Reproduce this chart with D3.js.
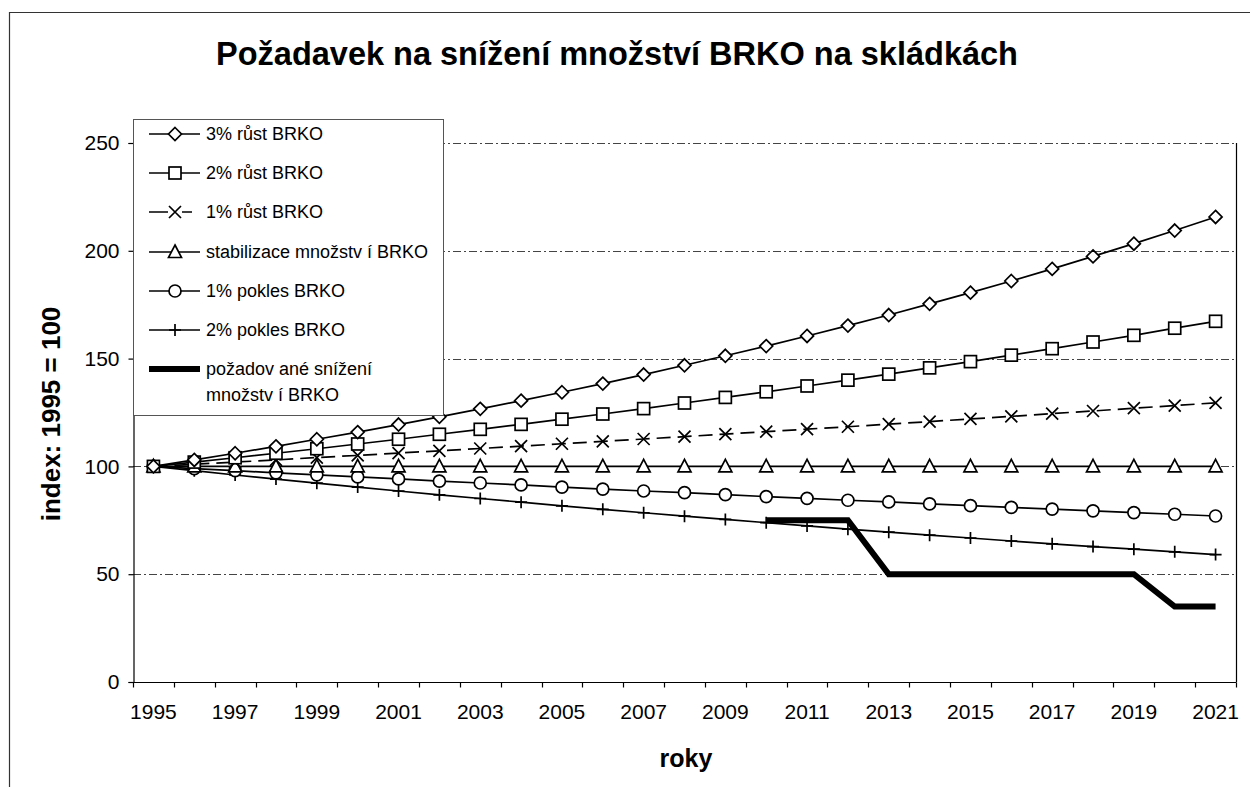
<!DOCTYPE html>
<html><head><meta charset="utf-8">
<script src="https://cdn.jsdelivr.net/npm/d3@7"></script>
<style>
html,body{margin:0;padding:0;background:#fff;}
text{font-family:"Liberation Sans",Arial,sans-serif;fill:#000;}
</style></head>
<body>
<svg id="chart" width="1250" height="787"></svg>
<script>
const years = [1995,1996,1997,1998,1999,2000,2001,2002,2003,2004,2005,2006,2007,2008,2009,2010,2011,2012,2013,2014,2015,2016,2017,2018,2019,2020,2021];
const growth3 = [100,103,106.1,109.3,112.6,115.9,119.4,123,126.7,130.5,134.4,138.4,142.6,146.9,151.3,155.8,160.5,165.3,170.2,175.4,180.6,186,191.6,197.4,203.3,209.4,215.7];
const growth2 = [100,102,104,106.1,108.2,110.4,112.6,114.9,117.2,119.5,121.9,124.3,126.8,129.4,132,134.6,137.3,140,142.8,145.7,148.6,151.6,154.6,157.7,160.8,164.1,167.3];
const growth1 = [100,101,102,103,104.1,105.1,106.2,107.2,108.3,109.4,110.5,111.6,112.7,113.8,115,116.1,117.3,118.4,119.6,120.8,122,123.2,124.5,125.7,127,128.2,129.5];
const stable  = [100,100,100,100,100,100,100,100,100,100,100,100,100,100,100,100,100,100,100,100,100,100,100,100,100,100,100];
const decline1 = [100,99,98,97,96.1,95.1,94.2,93.2,92.3,91.4,90.4,89.5,88.6,87.8,86.9,86,85.2,84.3,83.5,82.6,81.8,81,80.2,79.4,78.6,77.8,77];
const decline2 = [100,98,96,94.1,92.2,90.4,88.6,86.8,85.1,83.4,81.7,80.1,78.5,76.9,75.4,73.9,72.4,70.9,69.5,68.1,66.8,65.4,64.1,62.8,61.6,60.4,59.1];
const target = [null,null,null,null,null,null,null,null,null,null,null,null,null,null,null,75,75,75,50,50,50,50,50,50,50,35,35];
const yTicks = [0,50,100,150,200,250];
const xTickLabels = [1995,1997,1999,2001,2003,2005,2007,2009,2011,2013,2015,2017,2019,2021];
const seriesNames = ["3% růst BRKO","2% růst BRKO","1% růst BRKO","stabilizace množstv í BRKO","1% pokles BRKO","2% pokles BRKO"];
const targetName = ["požadov ané snížení","množstv í BRKO"];
const titleText = "Požadavek na snížení množství BRKO na skládkách";
const yTitle = "index: 1995 = 100";
const xTitle = "roky";

const svg = d3.select("#chart");
const L = 133, R = 1236, T = 143, B = 682;

// outer frame (only top/left visible)
svg.append("path").attr("d","M9.5,787 V12.5 H1250").attr("fill","none").attr("stroke","#333").attr("stroke-width",1.2);

const x = d3.scaleBand().domain(years).range([L, R]).paddingInner(0).paddingOuter(0);
const y = d3.scaleLinear().domain([0,250]).range([B, T]);
const cx = d => x(d) + x.bandwidth()/2;

// gridlines
svg.append("g").selectAll("line").data(yTicks.filter(v=>v>0)).join("line")
  .attr("x1",L).attr("x2",R).attr("y1",d=>Math.round(y(d))+0.5).attr("y2",d=>Math.round(y(d))+0.5)
  .attr("stroke","#444").attr("stroke-width",1).attr("stroke-dasharray","8,3,2,3");

// right border of plot
svg.append("line").attr("x1",R+0.5).attr("x2",R+0.5).attr("y1",T).attr("y2",B).attr("stroke","#000").attr("stroke-width",1.2);

// y axis
const yAxis = d3.axisLeft(y).tickValues(yTicks).tickSize(5).tickPadding(9);
const gy = svg.append("g").attr("transform",`translate(${L+0.5},0)`).call(yAxis);
gy.selectAll("text").style("font-size","21px").attr("font-family","Liberation Sans, Arial");
gy.selectAll("path,line").attr("stroke","#000").attr("stroke-width",1.2);

// x axis: ticks between categories
const gx = svg.append("g").attr("transform",`translate(0,${B+0.5})`);
gx.append("line").attr("x1",L).attr("x2",R+0.5).attr("y1",0).attr("y2",0).attr("stroke","#000").attr("stroke-width",1.2);
const bounds = years.map(d=>x(d)).concat([R]);
gx.selectAll("line.tk").data(bounds).join("line").attr("class","tk")
  .attr("x1",d=>Math.round(d)+0.5).attr("x2",d=>Math.round(d)+0.5).attr("y1",0).attr("y2",5).attr("stroke","#000").attr("stroke-width",1.2);
gx.selectAll("text").data(xTickLabels).join("text")
  .attr("x",d=>cx(d)).attr("y",36).attr("text-anchor","middle").style("font-size","21px").text(d=>d);

// markers
function marker(g, type, px, py){
  const s = 6;
  if(type==="diamond") g.append("path").attr("d",`M${px},${py-s-0.5} L${px+s+0.5},${py} L${px},${py+s+0.5} L${px-s-0.5},${py} Z`).attr("fill","#fff").attr("stroke","#000").attr("stroke-width",1.7);
  else if(type==="square") g.append("rect").attr("x",px-s).attr("y",py-s).attr("width",2*s).attr("height",2*s).attr("fill","#fff").attr("stroke","#000").attr("stroke-width",1.7);
  else if(type==="x") g.append("path").attr("d",`M${px-s},${py-s} L${px+s},${py+s} M${px-s},${py+s} L${px+s},${py-s}`).attr("stroke","#000").attr("stroke-width",1.7);
  else if(type==="triangle") g.append("path").attr("d",`M${px},${py-s-1} L${px+s+0.5},${py+s-0.5} L${px-s-0.5},${py+s-0.5} Z`).attr("fill","#fff").attr("stroke","#000").attr("stroke-width",1.7);
  else if(type==="circle") g.append("circle").attr("cx",px).attr("cy",py).attr("r",s).attr("fill","#fff").attr("stroke","#000").attr("stroke-width",1.7);
  else if(type==="plus") g.append("path").attr("d",`M${px-s},${py} L${px+s},${py} M${px},${py-s} L${px},${py+s}`).attr("stroke","#000").attr("stroke-width",1.7);
}

const series = [
  {vals:growth3, m:"diamond", dash:null},
  {vals:growth2, m:"square", dash:null},
  {vals:growth1, m:"x", dash:"14,7"},
  {vals:stable, m:"triangle", dash:null},
  {vals:decline1, m:"circle", dash:null},
  {vals:decline2, m:"plus", dash:null}
];
const line = d3.line().defined(d=>d.v!=null).x(d=>cx(d.yr)).y(d=>y(d.v));
const plot = svg.append("g");
series.slice().reverse().forEach(s=>{
  const data = years.map((yr,i)=>({yr, v:s.vals[i]}));
  const g = plot.append("g");
  g.append("path").datum(data).attr("d",line).attr("fill","none").attr("stroke","#000").attr("stroke-width",1.7)
    .attr("stroke-dasharray",s.dash);
  data.forEach(d=>marker(g, s.m, cx(d.yr), y(d.v)));
});
// target line
const tdata = years.map((yr,i)=>({yr, v:target[i]}));
plot.append("path").datum(tdata).attr("d",line).attr("fill","none").attr("stroke","#000").attr("stroke-width",6).attr("stroke-linejoin","miter");

// legend
const lg = svg.append("g");
lg.append("rect").attr("x",L+0.5).attr("y",119.5).attr("width",310).attr("height",296).attr("fill","#fff").attr("stroke","#555").attr("stroke-width",1);
const rowY = [134,173,212,252,291,330];
series.forEach((s,i)=>{
  const yy = rowY[i];
  lg.append("line").attr("x1",149).attr("x2",200).attr("y1",yy).attr("y2",yy).attr("stroke","#000").attr("stroke-width",1.7).attr("stroke-dasharray",s.dash ? "19,14,10,8":null);
  marker(lg, s.m, 175, yy);
  lg.append("text").attr("x",206).attr("y",yy).attr("dy","0.36em").style("font-size","18px").text(seriesNames[i]);
});
lg.append("line").attr("x1",149).attr("x2",200).attr("y1",369).attr("y2",369).attr("stroke","#000").attr("stroke-width",6);
lg.append("text").attr("x",206).attr("y",369).attr("dy","0.36em").style("font-size","18px").text(targetName[0]);
lg.append("text").attr("x",206).attr("y",395).attr("dy","0.36em").style("font-size","18px").text(targetName[1]);

// titles
svg.append("text").attr("x",617).attr("y",65).attr("text-anchor","middle").style("font-size","32.5px").style("font-weight","bold").text(titleText);
svg.append("text").attr("transform","translate(60,414) rotate(-90)").attr("text-anchor","middle").style("font-size","26px").style("font-weight","bold").text(yTitle);
svg.append("text").attr("x",686).attr("y",767).attr("text-anchor","middle").style("font-size","25px").style("font-weight","bold").text(xTitle);
</script>
</body></html>
